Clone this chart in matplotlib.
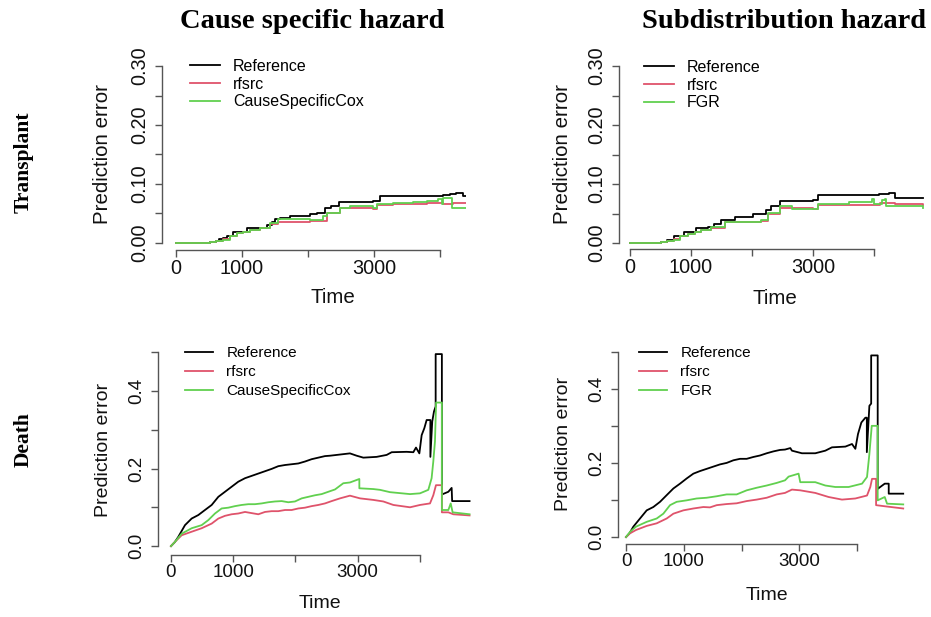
import matplotlib
matplotlib.use("Agg")
import matplotlib.pyplot as plt

plt.rcParams['font.family'] = ['Liberation Sans', 'DejaVu Sans']

# --- данные ---
col_titles = ["Cause specific hazard", "Subdistribution hazard"]
row_titles = ["Transplant", "Death"]
legend_labels_cs = ["Reference", "rfsrc", "CauseSpecificCox"]
legend_labels_sd = ["Reference", "rfsrc", "FGR"]

x_ticks = [0, 1000, 2000, 3000, 4000]
x_ticklabels = ["0", "1000", "", "3000", ""]
y_ticks_top = [0, 0.05, 0.10, 0.15, 0.20, 0.25, 0.30]
y_ticklabels_top = ["0.00", "", "0.10", "", "0.20", "", "0.30"]
y_ticks_bot = [0, 0.1, 0.2, 0.3, 0.4, 0.5]
y_ticklabels_bot = ["0.0", "", "0.2", "", "0.4", ""]

# Transplant, cause specific
tl_ref_t = [0, 515, 600, 650, 717, 768, 869, 970, 1080, 1374, 1450, 1500, 1576, 1727, 2030, 2131, 2258, 2343, 2475, 2990, 3090, 4050, 4150, 4250, 4350, 4800]
tl_ref_y = [0, 0.002, 0.004, 0.006, 0.008, 0.011, 0.018, 0.019, 0.025, 0.031, 0.036, 0.040, 0.043, 0.045, 0.049, 0.050, 0.059, 0.062, 0.070, 0.071, 0.080, 0.081, 0.083, 0.085, 0.079, 0.079]
tl_rf_t = [0, 515, 600, 717, 820, 919, 1020, 1121, 1273, 1424, 1550, 2030, 2283, 2485, 2990, 3040, 3293, 3800, 4050, 4200, 4800]
tl_rf_y = [0, 0.002, 0.004, 0.006, 0.012, 0.016, 0.019, 0.022, 0.025, 0.032, 0.036, 0.037, 0.050, 0.060, 0.058, 0.064, 0.066, 0.067, 0.066, 0.067, 0.066]
tl_cox_t = [0, 515, 600, 717, 820, 919, 1020, 1121, 1273, 1424, 1550, 2030, 2232, 2283, 2485, 2636, 2990, 3040, 3293, 3596, 3798, 3975, 4025, 4050, 4177, 4800]
tl_cox_y = [0, 0.002, 0.004, 0.005, 0.011, 0.016, 0.019, 0.022, 0.025, 0.033, 0.040, 0.039, 0.045, 0.051, 0.059, 0.062, 0.059, 0.066, 0.067, 0.069, 0.071, 0.074, 0.066, 0.076, 0.059, 0.057]

# Transplant, subdistribution
tr_ref_t = [0, 505, 600, 725, 890, 1082, 1275, 1385, 1495, 1714, 2016, 2236, 2319, 2456, 3005, 3088, 4077, 4242, 4352, 4800]
tr_ref_y = [0, 0.002, 0.005, 0.011, 0.018, 0.025, 0.027, 0.033, 0.039, 0.044, 0.049, 0.056, 0.062, 0.071, 0.073, 0.081, 0.083, 0.085, 0.077, 0.077]
tr_rf_t = [0, 505, 600, 725, 820, 945, 1060, 1165, 1330, 1550, 2154, 2264, 2456, 3005, 3088, 4100, 4350, 4800]
tr_rf_y = [0, 0.002, 0.004, 0.006, 0.011, 0.015, 0.019, 0.022, 0.026, 0.036, 0.037, 0.050, 0.059, 0.058, 0.065, 0.067, 0.066, 0.065]
tr_fgr_t = [0, 505, 600, 725, 820, 945, 1060, 1165, 1330, 1550, 2154, 2264, 2456, 2648, 3005, 3088, 3582, 3967, 3995, 4132, 4187, 4198, 4800]
tr_fgr_y = [0, 0.002, 0.004, 0.005, 0.011, 0.015, 0.019, 0.022, 0.027, 0.036, 0.039, 0.051, 0.062, 0.058, 0.058, 0.066, 0.069, 0.074, 0.066, 0.073, 0.075, 0.063, 0.060]

# Death, cause specific (повторённое время = вертикальный скачок)
bl_ref_t = [0, 60, 118, 225, 332, 439, 546, 654, 761, 868, 975, 1082, 1190, 1297, 1404, 1511, 1618, 1725, 1833, 1940,
            2047, 2154, 2261, 2368, 2476, 2556, 2717, 2877, 2985, 3092, 3306, 3467, 3548, 3789, 3896, 3939, 3993, 4030, 4073, 4110,
            4170, 4170, 4200, 4228, 4255, 4255, 4355, 4355, 4459, 4512, 4520, 4800]
bl_ref_y = [0, 0.010, 0.024, 0.054, 0.071, 0.080, 0.093, 0.106, 0.127, 0.140, 0.153, 0.166, 0.175, 0.181, 0.187, 0.193, 0.199, 0.206, 0.209, 0.211,
            0.213, 0.218, 0.224, 0.228, 0.232, 0.233, 0.236, 0.239, 0.233, 0.228, 0.230, 0.235, 0.242, 0.243, 0.242, 0.254, 0.239, 0.286, 0.304, 0.325,
            0.325, 0.230, 0.321, 0.347, 0.360, 0.495, 0.495, 0.133, 0.140, 0.150, 0.116, 0.116]
bl_rf_t = [0, 64, 172, 332, 493, 654, 761, 868, 975, 1082, 1190, 1297, 1404, 1511, 1618, 1725, 1833, 1940, 2047, 2154,
           2261, 2368, 2476, 2583, 2717, 2877, 3039, 3253, 3414, 3575, 3843, 4003, 4164, 4217, 4260, 4355, 4355, 4459, 4539, 4800]
bl_rf_y = [0, 0.011, 0.028, 0.037, 0.046, 0.058, 0.071, 0.078, 0.082, 0.084, 0.088, 0.085, 0.082, 0.088, 0.090, 0.090, 0.093, 0.093, 0.097, 0.099,
           0.103, 0.106, 0.110, 0.116, 0.123, 0.130, 0.123, 0.119, 0.115, 0.106, 0.100, 0.106, 0.110, 0.131, 0.157, 0.157, 0.087, 0.087, 0.082, 0.079]
bl_cox_t = [0, 64, 172, 332, 493, 600, 707, 814, 921, 1029, 1136, 1243, 1350, 1458, 1565, 1672, 1779, 1886, 1993, 2101,
            2208, 2315, 2422, 2529, 2637, 2770, 2877, 3028, 3028, 3253, 3360, 3521, 3843, 4003, 4137, 4190, 4217, 4244, 4262, 4355,
            4355, 4459, 4497, 4528, 4800]
bl_cox_y = [0, 0.011, 0.032, 0.046, 0.054, 0.067, 0.084, 0.097, 0.099, 0.103, 0.106, 0.108, 0.108, 0.110, 0.113, 0.115, 0.116, 0.113, 0.115, 0.123,
            0.127, 0.131, 0.134, 0.140, 0.146, 0.162, 0.164, 0.173, 0.149, 0.147, 0.145, 0.139, 0.134, 0.136, 0.145, 0.175, 0.218, 0.270, 0.370, 0.370,
            0.093, 0.093, 0.110, 0.087, 0.082]

# Death, subdistribution
br_ref_t = [0, 60, 127, 242, 358, 473, 589, 704, 820, 935, 1050, 1166, 1281, 1397, 1512, 1628, 1743, 1858, 1974, 2089,
            2205, 2320, 2436, 2551, 2667, 2753, 2845, 2873, 3046, 3277, 3451, 3566, 3798, 3913, 3971, 4017, 4075, 4145, 4170, 4170,
            4214, 4245, 4245, 4358, 4358, 4480, 4549, 4549, 4800]
br_ref_y = [0, 0.010, 0.028, 0.050, 0.072, 0.081, 0.095, 0.113, 0.131, 0.144, 0.158, 0.171, 0.178, 0.184, 0.190, 0.196, 0.200, 0.207, 0.211, 0.211,
            0.216, 0.220, 0.226, 0.231, 0.235, 0.236, 0.240, 0.233, 0.226, 0.226, 0.233, 0.242, 0.244, 0.251, 0.238, 0.278, 0.309, 0.322, 0.322, 0.229,
            0.354, 0.360, 0.490, 0.490, 0.130, 0.144, 0.144, 0.117, 0.117]
br_rf_t = [0, 69, 173, 358, 531, 704, 820, 993, 1166, 1339, 1454, 1570, 1743, 1916, 2089, 2263, 2436, 2609, 2753, 2873,
           3017, 3277, 3508, 3740, 3971, 4173, 4230, 4260, 4330, 4330, 4480, 4800]
br_rf_y = [0, 0.010, 0.019, 0.030, 0.037, 0.050, 0.063, 0.072, 0.077, 0.081, 0.080, 0.086, 0.089, 0.091, 0.097, 0.101, 0.106, 0.115, 0.119, 0.128,
           0.126, 0.119, 0.108, 0.101, 0.104, 0.112, 0.135, 0.157, 0.157, 0.086, 0.083, 0.077]
br_fgr_t = [0, 69, 173, 358, 531, 646, 762, 877, 1050, 1223, 1397, 1570, 1743, 1916, 2089, 2263, 2436, 2609, 2753, 2815,
            2988, 3017, 3277, 3451, 3624, 3855, 4087, 4173, 4214, 4255, 4358, 4358, 4480, 4520, 4800]
br_fgr_y = [0, 0.014, 0.028, 0.041, 0.050, 0.063, 0.086, 0.095, 0.099, 0.104, 0.106, 0.110, 0.115, 0.115, 0.126, 0.133, 0.139, 0.146, 0.153, 0.163,
            0.171, 0.148, 0.148, 0.139, 0.135, 0.135, 0.144, 0.162, 0.224, 0.300, 0.300, 0.099, 0.108, 0.090, 0.088]

colors = ["black", "#DF536B", "#61D04F"]

W, H = 931, 617
fig = plt.figure(figsize=(W / 100, H / 100), dpi=100)


def px_box(left, top, right, bottom):
    # пиксели -> доли фигуры
    return [left / W, 1 - bottom / H, (right - left) / W, (bottom - top) / H]


def draw_panel(box, xlim, ylim, series, labels, yticks, yticklabels, steps,
               leg_xy, leg_sp, fs, leg_fs, xlab_y, ylab_x, xlab_x=0.5):
    ax = fig.add_axes(px_box(*box))
    ds = 'steps-post' if steps else 'default'
    for (t, y), c, lab in zip(series, colors, labels):
        ax.plot(t, y, drawstyle=ds, color=c, lw=1.3, label=lab)
    ax.set_xlim(*xlim)
    ax.set_ylim(*ylim)
    for s in ['top', 'right']:
        ax.spines[s].set_visible(False)
    for s in ['left', 'bottom']:
        ax.spines[s].set_color('#555555')
        ax.spines[s].set_linewidth(1)
    ax.spines['bottom'].set_bounds(x_ticks[0], x_ticks[-1])
    ax.spines['left'].set_bounds(yticks[0], yticks[-1])
    ax.set_xticks(x_ticks, x_ticklabels)
    ax.set_yticks(yticks, yticklabels)
    ax.tick_params(length=5, width=1, color='#555555', labelsize=fs, labelcolor='#111111')
    ax.tick_params(axis='x', pad=1.5)
    ax.tick_params(axis='y', pad=4, labelrotation=90)
    for lbl in ax.get_yticklabels():
        lbl.set_va('center')
    ax.set_xlabel("Time", fontsize=fs + 0.5, va='center', color='#111111')
    ax.set_ylabel("Prediction error", fontsize=fs + 0.5, va='center', color='#111111')
    ax.xaxis.set_label_coords(xlab_x, xlab_y)
    ax.yaxis.set_label_coords(ylab_x, 0.5)
    ax.legend(loc='upper left', bbox_to_anchor=(leg_xy[0] / W, 1 - leg_xy[1] / H),
              bbox_transform=fig.transFigure, frameon=False, borderpad=0,
              borderaxespad=0, handlelength=1.85, handletextpad=0.85,
              labelspacing=leg_sp, fontsize=leg_fs)
    return ax


# верхний ряд: Transplant
draw_panel((162, 59, 466, 250), (-212, 4394), (-0.012, 0.312),
           [(tl_ref_t, tl_ref_y), (tl_rf_t, tl_rf_y), (tl_cox_t, tl_cox_y)],
           legend_labels_cs, y_ticks_top, y_ticklabels_top, True,
           (190, 59), 0.17, 14.3, 11.5, -(298 - 250) / 191, -60 / 304, xlab_x=(333 - 162) / 304)
draw_panel((619, 59, 931, 249), (-180, 4934), (-0.0102, 0.312),
           [(tr_ref_t, tr_ref_y), (tr_rf_t, tr_rf_y), (tr_fgr_t, tr_fgr_y)],
           legend_labels_sd, y_ticks_top, y_ticklabels_top, True,
           (644, 60), 0.17, 14.3, 11.5, -(298 - 249) / 190, -57 / 312)

# нижний ряд: Death
draw_panel((158, 344, 481, 555), (-209, 4984), (-0.023, 0.521),
           [(bl_ref_t, bl_ref_y), (bl_rf_t, bl_rf_y), (bl_cox_t, bl_cox_y)],
           legend_labels_cs, y_ticks_bot, y_ticklabels_bot, False,
           (185, 346), 0.33, 13.5, 11, -(603 - 555) / 211, -55 / 323)
draw_panel((618, 343, 915, 544), (-139, 5004), (-0.0188, 0.5235),
           [(br_ref_t, br_ref_y), (br_rf_t, br_rf_y), (br_fgr_t, br_fgr_y)],
           legend_labels_sd, y_ticks_bot, y_ticklabels_bot, False,
           (639, 346), 0.33, 13.5, 11, -(595 - 544) / 201, -54 / 297)

# заголовки
serif = ['Liberation Serif', 'DejaVu Serif']
fig.text(312 / W, 1 - 22 / H, col_titles[0], family=serif, weight='bold', fontsize=20.5,
         ha='center', va='center')
fig.text(784 / W, 1 - 22 / H, col_titles[1], family=serif, weight='bold', fontsize=20.5,
         ha='center', va='center')
fig.text(24 / W, 1 - 162 / H, row_titles[0], family=serif, weight='bold', fontsize=15.5,
         rotation=90, ha='center', va='center')
fig.text(24 / W, 1 - 440 / H, row_titles[1], family=serif, weight='bold', fontsize=15.5,
         rotation=90, ha='center', va='center')

fig.savefig("out.png", dpi=100)
